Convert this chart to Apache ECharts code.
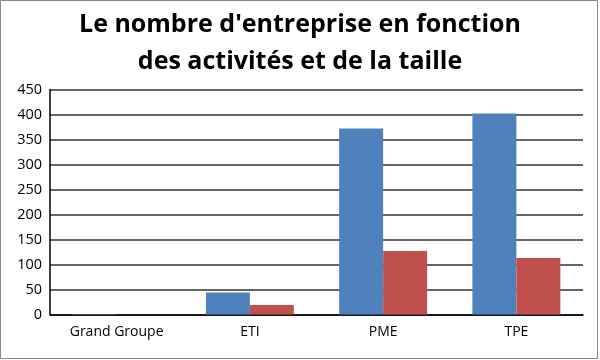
<!DOCTYPE html>
<html><head><meta charset="utf-8">
<script src="https://cdn.jsdelivr.net/npm/echarts@6/dist/echarts.min.js"></script>
<style>html,body{margin:0;padding:0;background:#fff}#c{width:600px;height:360px}</style>
</head><body><div id="c"></div>
<script>
var titleText = "Le nombre d'entreprise en fonction\ndes activités et de la taille";
var categories = ["Grand Groupe", "ETI", "PME", "TPE"];
var seriesA = [1, 44, 372, 402];
var seriesB = [0, 19, 127, 113];
var yTicks = [0, 50, 100, 150, 200, 250, 300, 350, 400, 450];

var chart = echarts.init(document.getElementById('c'), null, {renderer: 'canvas'});
var font = "'Open Sans', 'Noto Sans', sans-serif";
chart.setOption({
  animation: false,
  backgroundColor: '#fff',
  title: {
    text: titleText, left: 'center', top: 1,
    textStyle: {fontFamily: font, fontSize: 25, fontWeight: 'bold', color: '#000', lineHeight: 37}
  },
  graphic: [{type: 'rect', shape: {x: 0.5, y: 0.5, width: 597, height: 358},
    style: {fill: 'none', stroke: '#888', lineWidth: 1}, silent: true}],
  grid: {left: 50, right: 17, top: 89.5, bottom: 45.5, containLabel: false},
  xAxis: {
    type: 'category', data: categories,
    axisLine: {lineStyle: {color: '#000', width: 1.5}},
    axisTick: {show: false},
    axisLabel: {fontFamily: font, fontSize: 14, color: '#000', margin: 11}
  },
  yAxis: {
    type: 'value', min: yTicks[0], max: yTicks[yTicks.length - 1], interval: 50,
    axisLine: {show: true, lineStyle: {color: '#000', width: 1.5}},
    axisTick: {show: false},
    axisLabel: {fontFamily: font, fontSize: 14.5, color: '#000', margin: 8, align: 'right'},
    splitLine: {lineStyle: {color: '#333', width: 1.5}}
  },
  series: [
    {type: 'bar', data: seriesA, barGap: '0%', barCategoryGap: '34%', itemStyle: {color: '#4F81BD'}},
    {type: 'bar', data: seriesB, barGap: '0%', barCategoryGap: '34%', itemStyle: {color: '#C0504D'}}
  ]
});
</script></body></html>
